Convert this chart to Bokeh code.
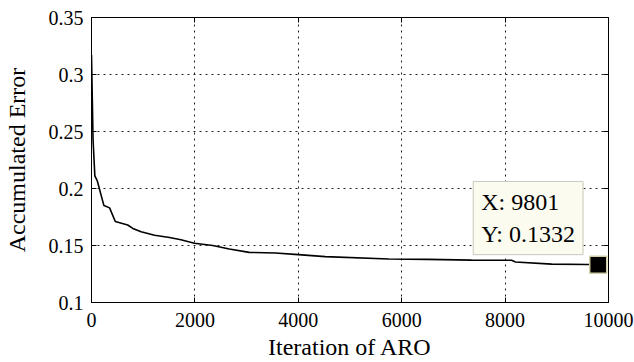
from bokeh.plotting import figure
from bokeh.models import LinearAxis, Label, FixedTicker, Range1d, CustomJSTickFormatter
from bokeh.embed import file_html
from bokeh.resources import INLINE

# data
iterations = [0, 15, 30, 65, 110, 240, 350, 460, 700, 800, 960, 1220, 1510, 1730,
              1990, 2345, 2665, 3050, 3560, 4000, 4520, 5750, 6500, 7350, 8125,
              8200, 8900, 9600, 9801]
errors = [0.317, 0.280, 0.243, 0.211, 0.207, 0.185, 0.183, 0.171, 0.168, 0.165,
          0.162, 0.159, 0.157, 0.155, 0.152, 0.150, 0.147, 0.144, 0.1434, 0.142,
          0.1402, 0.1382, 0.1378, 0.1372, 0.1370, 0.1355, 0.1337, 0.1333, 0.1332]
tip_x = [9801]
tip_y = [0.1332]
x_ticks = [0, 2000, 4000, 6000, 8000, 10000]
y_ticks = [0.1, 0.15, 0.2, 0.25, 0.3, 0.35]
y_tick_labels = ["0.1", "0.15", "0.2", "0.25", "0.3", "0.35"]

FONT = "Liberation Serif"

p = figure(width=634, height=362, output_backend="svg", toolbar_location=None,
           x_range=Range1d(0, 10000), y_range=Range1d(0.1, 0.35),
           min_border_left=88, min_border_right=26, min_border_top=17,
           min_border_bottom=57, background_fill_color="white",
           border_fill_color="white")

p.outline_line_color = "black"
p.outline_line_width = 1

p.line(iterations, errors, line_color="black", line_width=1.6)

# datatip
p.scatter(tip_x, tip_y, marker="square", size=17, fill_color="black",
          line_color="#d2cfa6", line_width=1.5)
lab = Label(x=tip_x[0], y=tip_y[0], text=f"X: {tip_x[0]}\nY: {tip_y[0]}",
            x_units="data", y_units="data", x_offset=-125, y_offset=10,
            text_align="left", text_baseline="bottom",
            text_font=FONT, text_font_size="24px", text_color="black",
            background_fill_color="#fbfbef", border_line_color="#c8c8bc",
            border_line_width=1, padding=8)
p.add_layout(lab)

# axes
for ax in (p.xaxis[0], p.yaxis[0]):
    ax.major_tick_in = 5
    ax.major_tick_out = 0
    ax.minor_tick_line_color = None
    ax.axis_line_color = "black"
    ax.major_tick_line_color = "black"
    ax.major_label_text_font = FONT
    ax.major_label_text_font_size = "20px"
    ax.major_label_text_color = "black"
    ax.axis_label_text_font = FONT
    ax.axis_label_text_font_size = "24px"
    ax.axis_label_text_font_style = "normal"
    ax.axis_label_text_color = "black"

p.xaxis[0].ticker = FixedTicker(ticks=x_ticks)
p.yaxis[0].ticker = FixedTicker(ticks=y_ticks)
p.yaxis[0].major_label_overrides = {t: s for t, s in zip(y_ticks, y_tick_labels)}
p.xaxis[0].axis_label = "Iteration of ARO"
p.yaxis[0].axis_label = "Accumulated Error"
p.xaxis[0].major_label_standoff = 10
p.yaxis[0].major_label_standoff = 8
p.xaxis[0].axis_label_standoff = 4
p.yaxis[0].axis_label_standoff = 16

# mirrored inward ticks on top and right (no labels)
top = LinearAxis(ticker=FixedTicker(ticks=x_ticks), major_tick_in=5, major_tick_out=0,
                 minor_tick_line_color=None, axis_line_color=None,
                 formatter=CustomJSTickFormatter(code="return ''"),
                 major_label_standoff=0)
right = LinearAxis(ticker=FixedTicker(ticks=y_ticks), major_tick_in=5, major_tick_out=0,
                   minor_tick_line_color=None, axis_line_color=None,
                   formatter=CustomJSTickFormatter(code="return ''"),
                   major_label_standoff=0)
p.add_layout(top, "above")
p.add_layout(right, "right")

# grid
for g in (p.xgrid[0], p.ygrid[0]):
    g.grid_line_color = "#222222"
    g.grid_line_dash = "2 4"
    g.grid_line_width = 1
p.xgrid[0].ticker = FixedTicker(ticks=x_ticks)
p.ygrid[0].ticker = FixedTicker(ticks=y_ticks)

open("out.html", "w").write(file_html(p, INLINE))
